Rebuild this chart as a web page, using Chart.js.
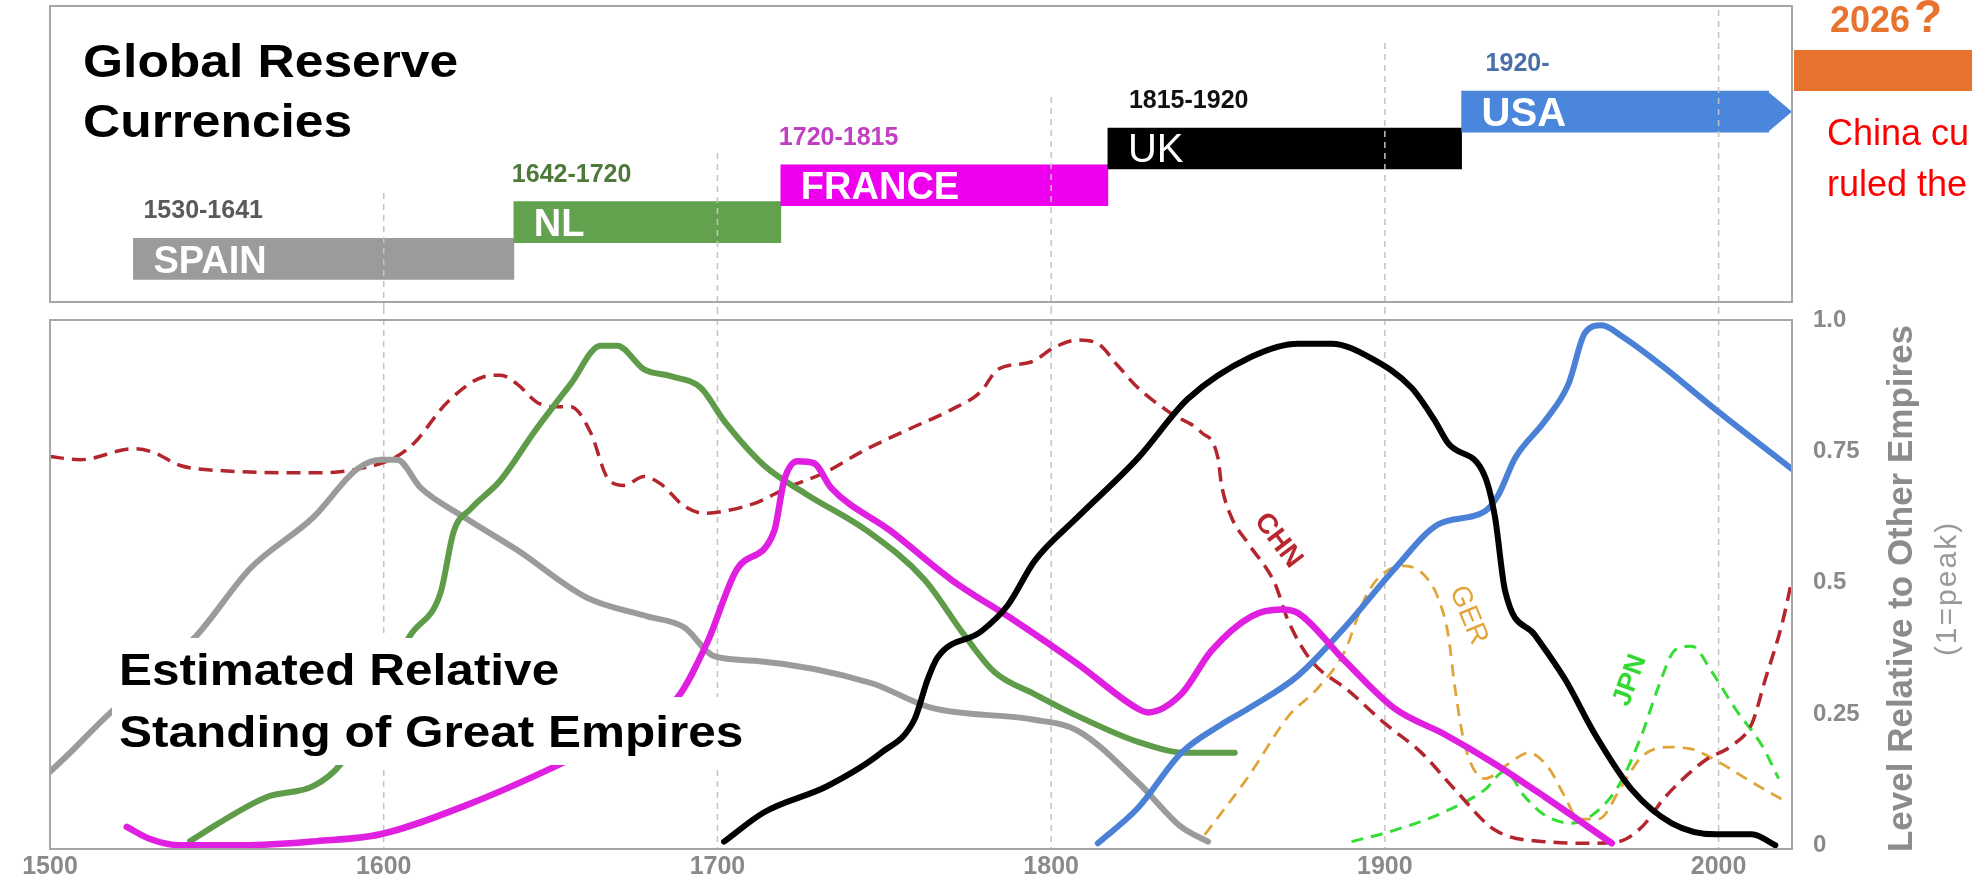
<!DOCTYPE html>
<html>
<head>
<meta charset="utf-8">
<script src="https://cdn.jsdelivr.net/npm/chart.js@4.4.1/dist/chart.umd.min.js"></script>
<style>
  html, body { margin: 0; padding: 0; background: #fff; overflow: hidden; width: 1972px; height: 888px; }
  #topChart { position: absolute; left: 0; top: 0; }
  #mainChart { position: absolute; left: 0; top: 308px; }
</style>
</head>
<body>
<canvas id="topChart" width="1972" height="308"></canvas>
<canvas id="mainChart" width="1972" height="580"></canvas>
<script>
// ---- reserve currency periods (top panel) ----
const currencyNames = ['SPAIN', 'NL', 'FRANCE', 'UK', 'USA'];
const currencyPeriods = ['1530-1641', '1642-1720', '1720-1815', '1815-1920', '1920-'];
const currencyStart = [1525, 1639, 1719, 1817, 1923];
const currencyEnd = [1639, 1719, 1817, 1923, 2015];
const currencyLevel = [1, 2, 3, 4, 5];

// ---- relative standing of empires (bottom panel) ----
const spainYears = [1500, 1505, 1517, 1530, 1544, 1560, 1579, 1592, 1599, 1604, 1611, 1624, 1640, 1661, 1679, 1690, 1699, 1712, 1746, 1764, 1795, 1808, 1826, 1839, 1847];
const spainValues = [0.14, 0.17, 0.246, 0.32, 0.40, 0.527, 0.625, 0.716, 0.734, 0.734, 0.681, 0.625, 0.562, 0.471, 0.436, 0.415, 0.36, 0.351, 0.309, 0.262, 0.239, 0.218, 0.12, 0.035, 0.007];

const nlYears = [1542, 1550, 1565, 1579, 1587, 1597, 1608, 1617, 1621, 1626, 1635, 1645, 1656, 1665, 1670, 1678, 1686, 1695, 1702, 1714, 1727, 1745, 1762, 1774, 1783, 1795, 1808, 1826, 1841, 1855];
const nlValues = [0.008, 0.04, 0.092, 0.113, 0.154, 0.27, 0.40, 0.48, 0.598, 0.64, 0.695, 0.786, 0.878, 0.951, 0.951, 0.906, 0.893, 0.871, 0.808, 0.723, 0.667, 0.598, 0.506, 0.40, 0.33, 0.288, 0.246, 0.197, 0.176, 0.176];

const franceYears = [1523, 1530, 1539, 1558, 1580, 1599, 1625, 1653, 1670, 1688, 1697, 1706, 1717, 1720, 1724, 1729, 1734, 1752, 1770, 1789, 1808, 1826, 1829, 1839, 1848, 1860, 1869, 1874, 1888, 1903, 1918, 1933, 1948, 1968];
const franceValues = [0.035, 0.012, 0.0, 0.0, 0.008, 0.021, 0.077, 0.155, 0.21, 0.281, 0.387, 0.527, 0.598, 0.695, 0.731, 0.727, 0.681, 0.598, 0.506, 0.428, 0.345, 0.26, 0.253, 0.288, 0.37, 0.436, 0.449, 0.442, 0.351, 0.26, 0.211, 0.155, 0.092, 0.004];

const ukYears = [1702, 1714, 1733, 1749, 1759, 1763, 1766, 1779, 1787, 1795, 1808, 1826, 1841, 1860, 1874, 1884, 1896, 1908, 1915, 1919, 1930, 1933, 1936, 1945, 1954, 1963, 1974, 1986, 1999, 2010, 2017];
const ukValues = [0.007, 0.063, 0.113, 0.176, 0.239, 0.316, 0.358, 0.407, 0.457, 0.541, 0.625, 0.737, 0.85, 0.93, 0.955, 0.955, 0.927, 0.871, 0.808, 0.765, 0.702, 0.625, 0.485, 0.40, 0.316, 0.211, 0.106, 0.042, 0.021, 0.021, 0.0];

const usaYears = [1814, 1826, 1839, 1851, 1859, 1874, 1888, 1903, 1916, 1930, 1934, 1939, 1948, 1955, 1960, 1965, 1971, 1983, 1998, 2022];
const usaValues = [0.004, 0.071, 0.176, 0.23, 0.26, 0.323, 0.415, 0.527, 0.611, 0.636, 0.667, 0.737, 0.808, 0.878, 0.976, 0.99, 0.969, 0.913, 0.835, 0.716];

const chnYears = [1500, 1509, 1525, 1531, 1539, 1552, 1579, 1592, 1603, 1609, 1619, 1630, 1635, 1640, 1646, 1651, 1656, 1662, 1667, 1672, 1678, 1683, 1690, 1696, 1702, 1712, 1721, 1732, 1744, 1758, 1770, 1779, 1784, 1794, 1801, 1808, 1814, 1820, 1826, 1836, 1845, 1850, 1851, 1854, 1859, 1867, 1871, 1878, 1889, 1900, 1911, 1921, 1933, 1948, 1962, 1970, 1977, 1984, 1996, 2004, 2010, 2014, 2019, 2022];
const chnValues = [0.74, 0.734, 0.755, 0.748, 0.723, 0.713, 0.709, 0.716, 0.737, 0.765, 0.843, 0.892, 0.895, 0.878, 0.843, 0.835, 0.835, 0.786, 0.70, 0.685, 0.702, 0.688, 0.646, 0.632, 0.636, 0.653, 0.681, 0.709, 0.752, 0.794, 0.829, 0.864, 0.906, 0.92, 0.948, 0.962, 0.955, 0.913, 0.871, 0.822, 0.786, 0.737, 0.688, 0.625, 0.575, 0.499, 0.428, 0.351, 0.295, 0.232, 0.176, 0.106, 0.029, 0.007, 0.004, 0.007, 0.035, 0.092, 0.162, 0.19, 0.232, 0.316, 0.421, 0.506];

const gerYears = [1846, 1859, 1871, 1880, 1888, 1894, 1899, 1906, 1912, 1916, 1919, 1921, 1924, 1930, 1937, 1943, 1949, 1954, 1958, 1964, 1971, 1977, 1985, 1992, 2001, 2010, 2020];
const gerValues = [0.02, 0.13, 0.245, 0.30, 0.37, 0.47, 0.515, 0.532, 0.513, 0.47, 0.40, 0.30, 0.19, 0.127, 0.155, 0.176, 0.148, 0.092, 0.05, 0.05, 0.113, 0.169, 0.187, 0.183, 0.155, 0.12, 0.084];

const jpnYears = [1890, 1903, 1918, 1930, 1936, 1942, 1948, 1956, 1962, 1970, 1977, 1982, 1987, 1992, 1998, 2005, 2013, 2018];
const jpnValues = [0.007, 0.029, 0.064, 0.106, 0.141, 0.092, 0.057, 0.042, 0.057, 0.113, 0.211, 0.302, 0.372, 0.379, 0.33, 0.26, 0.19, 0.127];

const xTicks = [1500, 1600, 1700, 1800, 1900, 2000];
const yTicks = [0, 0.25, 0.5, 0.75, 1.0];
const yTickLabels = ['0', '0.25', '0.5', '0.75', '1.0'];

const FONT = "'Liberation Sans', Arial, sans-serif";
const GRID = '#c4c4c4';
const FRAME = '#a6a6a6';

function pts(xs, ys) {
  return xs.map((x, i) => ({ x: x, y: ys[i] }));
}

function stretchText(ctx, text, x, y, sx) {
  ctx.save();
  ctx.translate(x, y);
  ctx.scale(sx, 1);
  ctx.fillText(text, 0, 0);
  ctx.restore();
}

function dashedV(ctx, x, y0, y1) {
  ctx.save();
  ctx.strokeStyle = GRID;
  ctx.lineWidth = 1.5;
  ctx.setLineDash([6, 5]);
  ctx.beginPath();
  ctx.moveTo(x, y0);
  ctx.lineTo(x, y1);
  ctx.stroke();
  ctx.restore();
}

// ================= top panel =================
const barColors = ['#9b9b9b', '#62a14d', '#ee00ee', '#000000', '#4a86dc'];
const periodColors = ['#5a5a5a', '#4d7a3a', '#c23fc2', '#111111', '#4a6fa8'];

const topDecor = {
  id: 'topDecor',
  afterDatasetsDraw(chart) {
    const ctx = chart.ctx;
    const area = chart.chartArea;
    const xs = chart.scales.x;
    const bars = chart.getDatasetMeta(0).data;

    // arrow head on the last bar
    const last = bars[bars.length - 1];
    ctx.save();
    ctx.fillStyle = barColors[barColors.length - 1];
    ctx.beginPath();
    ctx.moveTo(last.x - 1, last.y - last.height / 2);
    ctx.lineTo(area.right, last.y);
    ctx.lineTo(last.x - 1, last.y + last.height / 2);
    ctx.closePath();
    ctx.fill();
    ctx.restore();

    // dashed year lines, each starting at its own height
    const gridStart = { 1600: 193, 1700: 153, 1800: 97, 1900: 43, 2000: 10 };
    xTicks.slice(1).forEach(t => dashedV(ctx, xs.getPixelForValue(t), gridStart[t], chart.height));

    // names inside bars, periods above them
    const periodShift = [10, -2, -2, 21, 24];
    ctx.save();
    ctx.textBaseline = 'alphabetic';
    bars.forEach((b, i) => {
      const name = currencyNames[i];
      ctx.fillStyle = '#ffffff';
      ctx.font = (name === 'UK' ? '' : 'bold ') + (name === 'UK' || name === 'USA' ? '40px ' : '38px ') + FONT;
      ctx.fillText(name, b.base + 20, b.y + 14);
      ctx.fillStyle = periodColors[i];
      ctx.font = 'bold 25px ' + FONT;
      ctx.fillText(currencyPeriods[i], b.base + periodShift[i], b.y - b.height / 2 - 20);
    });
    ctx.restore();

    // panel title
    ctx.save();
    ctx.fillStyle = '#000';
    ctx.font = 'bold 46px ' + FONT;
    stretchText(ctx, 'Global Reserve', 83, 77, 1.12);
    stretchText(ctx, 'Currencies', 83, 137, 1.12);
    ctx.restore();

    // frame
    ctx.save();
    ctx.strokeStyle = FRAME;
    ctx.lineWidth = 2;
    ctx.strokeRect(area.left, area.top, area.right - area.left, area.bottom - area.top);
    ctx.restore();

    // side note
    ctx.save();
    ctx.fillStyle = '#e8732f';
    ctx.font = 'bold 36px ' + FONT;
    ctx.fillText('2026', 1830, 32);
    ctx.font = 'bold 46px ' + FONT;
    ctx.fillText('?', 1914, 32);
    ctx.fillRect(1794, 50, chart.width - 1794, 41);
    ctx.fillStyle = '#ff0000';
    ctx.font = '36px ' + FONT;
    ctx.fillText('China cu', 1827, 145);
    ctx.fillText('ruled the', 1827, 196);
    ctx.restore();
  }
};

new Chart(document.getElementById('topChart'), {
  type: 'bar',
  data: {
    datasets: [{
      data: currencyStart.map((s, i) => ({ x: [s, currencyEnd[i]], y: currencyLevel[i] })),
      backgroundColor: barColors,
      borderWidth: 0,
      borderSkipped: false,
      barThickness: 41,
      grouped: false
    }]
  },
  options: {
    indexAxis: 'y',
    responsive: false,
    animation: false,
    devicePixelRatio: 1,
    layout: { padding: { left: 50, right: 180, top: 6, bottom: 6 } },
    plugins: { legend: { display: false }, tooltip: { enabled: false } },
    scales: {
      x: { type: 'linear', min: 1500, max: 2022, display: false },
      y: { type: 'linear', min: 0.275, max: 7.425, display: false }
    }
  },
  plugins: [topDecor]
});

// ================= bottom panel =================
const seriesLabels = [
  { text: 'CHN', year: 1868, value: 0.58, angle: 53, color: '#b8262e', font: '600 28px ' },
  { text: 'GER', year: 1925, value: 0.438, angle: 68, color: '#e2a43a', font: '28px ' },
  { text: 'JPN', year: 1973.5, value: 0.314, angle: -70, color: '#33d833', font: 'bold 27px ' }
];

const mainDecor = {
  id: 'mainDecor',
  beforeDatasetsDraw(chart) {
    const ctx = chart.ctx;
    const xs = chart.scales.x;
    xTicks.slice(1).forEach(t => dashedV(ctx, xs.getPixelForValue(t), 0, chart.chartArea.bottom));
  },
  afterDatasetsDraw(chart) {
    const ctx = chart.ctx;
    const area = chart.chartArea;
    const xs = chart.scales.x;
    const ys = chart.scales.y;

    // rotated series names
    seriesLabels.forEach(l => {
      ctx.save();
      ctx.translate(xs.getPixelForValue(l.year), ys.getPixelForValue(l.value));
      ctx.rotate(l.angle * Math.PI / 180);
      ctx.fillStyle = l.color;
      ctx.font = l.font + FONT;
      ctx.textAlign = 'center';
      ctx.textBaseline = 'middle';
      ctx.fillText(l.text, 0, 0);
      ctx.restore();
    });

    // caption on a white band
    ctx.save();
    ctx.font = 'bold 45px ' + FONT;
    const sx = 1.1;
    const lines = [['Estimated Relative', 377, 47, 12], ['Standing of Great Empires', 439, 50, 18]];
    lines.forEach(([t, base, up, down]) => {
      const w = ctx.measureText(t).width * sx;
      ctx.fillStyle = '#fff';
      ctx.fillRect(112, base - up, w + 16, up + down);
    });
    ctx.fillStyle = '#000';
    lines.forEach(([t, base]) => stretchText(ctx, t, 119, base, sx));
    ctx.restore();

    // frame
    ctx.save();
    ctx.strokeStyle = FRAME;
    ctx.lineWidth = 2;
    ctx.strokeRect(area.left, area.top, area.right - area.left, area.bottom - area.top);
    ctx.restore();

    // right axis title
    const cy = (area.top + area.bottom) / 2 + 4;
    ctx.save();
    ctx.translate(1912, cy);
    ctx.rotate(-Math.PI / 2);
    ctx.textAlign = 'center';
    ctx.fillStyle = '#8c8c8c';
    ctx.font = 'bold 35px ' + FONT;
    ctx.fillText('Level Relative to Other Empires', 0, 0);
    ctx.restore();
    ctx.save();
    ctx.translate(1956, cy);
    ctx.rotate(-Math.PI / 2);
    ctx.textAlign = 'center';
    ctx.fillStyle = '#999';
    ctx.font = '30px ' + FONT;
    ctx.letterSpacing = '2px';
    ctx.fillText('(1=peak)', 0, 0);
    ctx.restore();
  }
};

function solid(label, xs, ys, color, width) {
  return {
    label: label, data: pts(xs, ys), borderColor: color, borderWidth: width,
    pointRadius: 0, cubicInterpolationMode: 'monotone', borderCapStyle: 'round', borderJoinStyle: 'round'
  };
}
function dashed(label, xs, ys, color, width, dash) {
  return {
    label: label, data: pts(xs, ys), borderColor: color, borderWidth: width, borderDash: dash,
    pointRadius: 0, cubicInterpolationMode: 'monotone'
  };
}

new Chart(document.getElementById('mainChart'), {
  type: 'line',
  data: {
    datasets: [
      solid('UK', ukYears, ukValues, '#000000', 6),
      solid('France', franceYears, franceValues, '#e020e0', 6.5),
      solid('USA', usaYears, usaValues, '#4a80d6', 6),
      solid('NL', nlYears, nlValues, '#5e9c4a', 6),
      solid('Spain', spainYears, spainValues, '#9b9b9b', 6),
      dashed('CHN', chnYears, chnValues, '#b3262e', 3.5, [14, 8]),
      dashed('GER', gerYears, gerValues, '#e0a53a', 2.8, [12, 8]),
      dashed('JPN', jpnYears, jpnValues, '#33dd33', 3, [12, 8])
    ]
  },
  options: {
    responsive: false,
    animation: false,
    devicePixelRatio: 1,
    layout: { padding: { left: 50, right: 0, top: 12, bottom: 0 } },
    plugins: { legend: { display: false }, tooltip: { enabled: false } },
    scales: {
      x: {
        type: 'linear', min: 1500, max: 2022, position: 'bottom',
        afterBuildTicks: s => { s.ticks = xTicks.map(v => ({ value: v })); },
        afterFit: s => { s.height = 39; s.paddingLeft = 0; s.paddingRight = 0; },
        grid: { display: false, drawTicks: false },
        border: { display: false },
        ticks: { padding: 3, color: '#8a8a8a', font: { family: FONT, size: 25, weight: 'bold' }, maxRotation: 0, callback: v => String(v) }
      },
      y: {
        type: 'linear', min: -0.007, max: 1.0, position: 'right',
        afterBuildTicks: s => { s.ticks = yTicks.map(v => ({ value: v })); },
        afterFit: s => { s.width = 180; s.paddingTop = 0; s.paddingBottom = 0; },
        grid: { display: false, drawTicks: false },
        border: { display: false },
        ticks: { padding: 21, color: '#8a8a8a', font: { family: FONT, size: 24, weight: 'bold' }, callback: (v, i) => yTickLabels[i] }
      }
    }
  },
  plugins: [mainDecor]
});
</script>
</body>
</html>
